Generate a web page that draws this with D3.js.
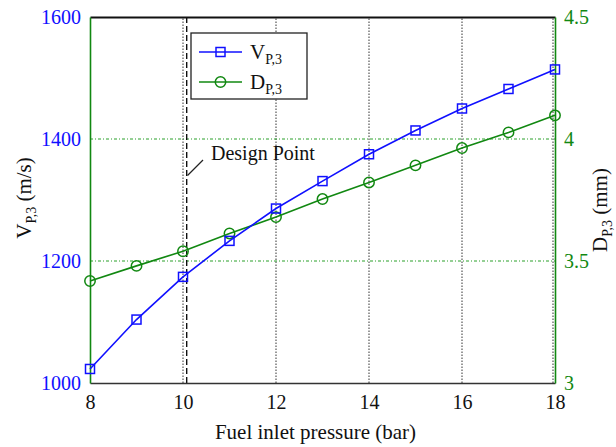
<!DOCTYPE html>
<html>
<head>
<meta charset="utf-8">
<script src="https://cdn.jsdelivr.net/npm/d3@7"></script>
<style>
  html, body { margin: 0; padding: 0; background: #fff; }
  svg text { font-family: "Liberation Serif" !important; }
</style>
</head>
<body>
<svg id="chart" width="616" height="447"></svg>
<script>
// Fuel inlet pressure (bar)
const pressure = [8, 9, 10, 11, 12, 13, 14, 15, 16, 17, 18];
// Fuel velocity at station 3 (m/s)
const velocity = [1023, 1104, 1174, 1233, 1286, 1331, 1375, 1414, 1450, 1482, 1514];
// Fuel diameter at station 3 (mm)
const diameter = [3.418, 3.48, 3.54, 3.613, 3.68, 3.754, 3.822, 3.892, 3.963, 4.027, 4.097];

const xTicks = [8, 10, 12, 14, 16, 18];
const yLeftTicks = [1000, 1200, 1400, 1600];
const yRightTicks = [3, 3.5, 4, 4.5];
const designPressure = 10.08;

const FONT = '"Liberation Serif"';
const blue = "#1010ff", green = "#118811";
const margin = { left: 90, right: 61, top: 17, bottom: 64 };
const W = 616, H = 447;
const svg = d3.select("#chart");

const x = d3.scaleLinear().domain([8, 18]).range([margin.left, W - margin.right]);
const yL = d3.scaleLinear().domain([1000, 1600]).range([H - margin.bottom, margin.top]);
const yR = d3.scaleLinear().domain([3, 4.5]).range([H - margin.bottom, margin.top]);

const x0 = x.range()[0], x1 = x.range()[1];
const yb = yL.range()[0], yt = yL.range()[1];

// vertical dotted grid
svg.append("g").selectAll("line").data(xTicks.slice(1)).join("line")
  .attr("x1", d => x(d) - (d === 18 ? 2 : 0)).attr("x2", d => x(d) - (d === 18 ? 2 : 0))
  .attr("y1", yb).attr("y2", yt)
  .attr("stroke", "#333").attr("stroke-width", 1).attr("stroke-dasharray", "1.5,1.5");

// horizontal dash-dot grid
svg.append("g").selectAll("line").data(yLeftTicks.slice(1, -1)).join("line")
  .attr("x1", x0).attr("x2", x1).attr("y1", d => yL(d)).attr("y2", d => yL(d))
  .attr("stroke", "#2aa02a").attr("stroke-width", 1).attr("stroke-dasharray", "3,2,1,2");

// design point marker line
svg.append("line")
  .attr("x1", x(designPressure)).attr("x2", x(designPressure)).attr("y1", yb).attr("y2", yt)
  .attr("stroke", "#000").attr("stroke-width", 1.3).attr("stroke-dasharray", "6,3");

// axes
function styleAxis(g, color) {
  g.attr("font-family", "Liberation Serif").style("font-family", FONT);
  g.selectAll("text").attr("font-size", 20).attr("fill", color).style("font-family", FONT);
}
const axB = d3.axisBottom(x).tickValues(xTicks).tickSize(0).tickPadding(12).tickFormat(d3.format("d"));
const gB = svg.append("g").attr("transform", `translate(0,${yb})`).call(axB);
gB.select(".domain").attr("stroke", "#333").attr("stroke-width", 1.6);
styleAxis(gB, "#111");

const gT = svg.append("g").attr("transform", `translate(0,${yt})`).call(d3.axisTop(x).tickValues([]).tickSize(0));
gT.select(".domain").attr("stroke", "#111").attr("stroke-width", 1.8);

const axL = d3.axisLeft(yL).tickValues(yLeftTicks).tickSize(0).tickPadding(9).tickFormat(d3.format("d"));
const gL = svg.append("g").attr("transform", `translate(${x0},0)`).call(axL);
gL.select(".domain").attr("stroke", green).attr("stroke-width", 1.6);
styleAxis(gL, blue);

const axR = d3.axisRight(yR).tickValues(yRightTicks).tickSize(0).tickPadding(9)
  .tickFormat(d => String(d));
const gR = svg.append("g").attr("transform", `translate(${x1},0)`).call(axR);
gR.select(".domain").attr("stroke", green).attr("stroke-width", 1.6);
styleAxis(gR, green);

// series
const vLine = d3.line().x((d, i) => x(pressure[i])).y(d => yL(d));
const dLine = d3.line().x((d, i) => x(pressure[i])).y(d => yR(d));

svg.append("path").datum(diameter).attr("d", dLine)
  .attr("fill", "none").attr("stroke", green).attr("stroke-width", 1.6);
svg.append("g").selectAll("circle").data(diameter).join("circle")
  .attr("cx", (d, i) => x(pressure[i])).attr("cy", d => yR(d)).attr("r", 5.2)
  .attr("fill", "none").attr("stroke", green).attr("stroke-width", 1.5);

svg.append("path").datum(velocity).attr("d", vLine)
  .attr("fill", "none").attr("stroke", blue).attr("stroke-width", 1.6);
svg.append("g").selectAll("rect").data(velocity).join("rect")
  .attr("x", (d, i) => x(pressure[i]) - 4.5).attr("y", d => yL(d) - 4.5)
  .attr("width", 9).attr("height", 9)
  .attr("fill", "none").attr("stroke", blue).attr("stroke-width", 1.5);

// axis titles
svg.append("text").attr("x", (x0 + x1) / 2 - 7).attr("y", 439).attr("text-anchor", "middle")
  .style("font-family", FONT).attr("font-size", 21).attr("fill", "#111").text("Fuel inlet pressure (bar)");

const tl = svg.append("text").attr("transform", `translate(31,198) rotate(-90)`)
  .style("font-family", FONT).attr("text-anchor", "middle").attr("font-size", 21).attr("fill", "#111");
tl.append("tspan").text("V");
tl.append("tspan").attr("font-size", 14).attr("dy", 5).text("P,3");
tl.append("tspan").attr("dy", -5).text(" (m/s)");

const tr = svg.append("text").attr("transform", `translate(607,210) rotate(-90)`)
  .style("font-family", FONT).attr("text-anchor", "middle").attr("font-size", 21).attr("fill", "#111");
tr.append("tspan").text("D");
tr.append("tspan").attr("font-size", 14).attr("dy", 5).text("P,3");
tr.append("tspan").attr("dy", -5).text(" (mm)");

// legend
const lg = svg.append("g");
lg.append("rect").attr("x", 191).attr("y", 33).attr("width", 116).attr("height", 66)
  .attr("fill", "#fff").attr("stroke", "#222").attr("stroke-width", 1.3);
const items = [
  { name: "V", color: blue, shape: "square", y: 52 },
  { name: "D", color: green, shape: "circle", y: 82 }
];
items.forEach(it => {
  lg.append("line").attr("x1", 199).attr("x2", 242).attr("y1", it.y).attr("y2", it.y)
    .attr("stroke", it.color).attr("stroke-width", 1.6);
  if (it.shape === "square") {
    lg.append("rect").attr("x", 220.5 - 4.5).attr("y", it.y - 4.5).attr("width", 9).attr("height", 9)
      .attr("fill", "none").attr("stroke", it.color).attr("stroke-width", 1.5);
  } else {
    lg.append("circle").attr("cx", 220.5).attr("cy", it.y).attr("r", 5.2)
      .attr("fill", "none").attr("stroke", it.color).attr("stroke-width", 1.5);
  }
  const t = lg.append("text").attr("x", 250).attr("y", it.y + 7).attr("font-size", 21)
    .style("font-family", FONT).attr("fill", "#111");
  t.append("tspan").text(it.name);
  t.append("tspan").attr("font-size", 14).attr("dy", 5).text("P,3");
});

// design point annotation
svg.append("line").attr("x1", 203).attr("y1", 160).attr("x2", 187.5).attr("y2", 175.5)
  .attr("stroke", "#222").attr("stroke-width", 1.2);
svg.append("text").attr("x", 211).attr("y", 160).attr("font-size", 20).attr("fill", "#111")
  .style("font-family", FONT).text("Design Point");
</script>
</body>
</html>
